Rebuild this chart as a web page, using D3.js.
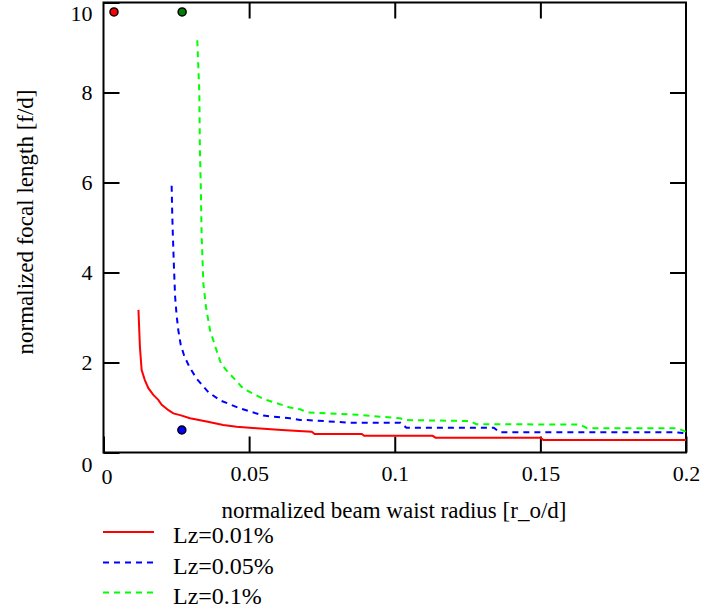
<!DOCTYPE html>
<html><head><meta charset="utf-8">
<script src="https://cdn.jsdelivr.net/npm/d3@7"></script>
<style>
body{margin:0;background:#fff;}
svg{display:block;}
svg text{font-family:"Liberation Serif","DejaVu Serif",serif;}
</style></head>
<body>
<script>
// ---- data ----
const xTicks = [0, 0.05, 0.1, 0.15, 0.2];
const yTicks = [0, 2, 4, 6, 8, 10];
const seriesNames = ["Lz=0.01%", "Lz=0.05%", "Lz=0.1%"];
const redX = [0.0120,0.0125,0.0131,0.0142,0.0154,0.0171,0.0188,0.0200,0.0223,0.0240,0.0263,0.0297,0.0354,0.0411,0.0457,0.0526,0.0612,0.0715,0.0725,0.0887,0.0895,0.113,0.114,0.150,0.151,0.2];
const redY = [3.17,2.35,1.83,1.61,1.43,1.28,1.17,1.06,0.94,0.87,0.83,0.76,0.69,0.61,0.57,0.54,0.50,0.46,0.41,0.41,0.37,0.37,0.33,0.33,0.28,0.28];
const blueX = [0.0234,0.0236,0.0238,0.0242,0.0246,0.0251,0.0257,0.0265,0.0277,0.0295,0.032,0.036,0.040,0.0469,0.0549,0.064,0.0675,0.070,0.085,0.102,0.104,0.134,0.136,0.195,0.2];
const blueY = [5.93,5.3,4.86,4.1,3.45,3.05,2.71,2.4,2.15,1.9,1.64,1.34,1.16,0.98,0.82,0.76,0.72,0.72,0.66,0.66,0.55,0.55,0.45,0.45,0.43];
const greenX = [0.0322,0.0329,0.0331,0.0334,0.0337,0.0343,0.0352,0.0366,0.0389,0.0404,0.0423,0.048,0.0549,0.064,0.0675,0.070,0.087,0.1018,0.104,0.1258,0.128,0.1636,0.166,0.197,0.2];
const greenY = [9.16,8.0,6.72,5.94,4.8,3.75,3.23,2.71,2.25,1.97,1.82,1.42,1.19,1.0,0.96,0.89,0.84,0.76,0.72,0.70,0.63,0.62,0.54,0.54,0.46];
const markerNames = ["red","green","blue"];
const markerX = [0.0036, 0.027, 0.0269];
const markerY = [9.79, 9.79, 0.5];

// ---- layout ----
const W = 706, H = 616;
const L = 103.5, T = 2.5, R = 686, B = 452.5;
const FONT = "Liberation Serif, DejaVu Serif, serif";
const colors = ["#ff0000", "#0000ff", "#00ff00"];
const dashes = [null, "6,5", "6,5"];
const markerFill = ["#ff0000", "#008000", "#0000ff"];

const svg = d3.select("body").append("svg").attr("width", W).attr("height", H)
  .attr("font-family", FONT);
const x = d3.scaleLinear().domain([0, 0.2]).range([L, R]);
const y = d3.scaleLinear().domain([0, 10]).range([B, T]);

const fmtX = d => d === 0 ? "0" : String(d);

// axes
const gl = svg.append("g").attr("transform", `translate(${L},0)`)
  .call(d3.axisLeft(y).tickValues(yTicks).tickSize(-16).tickPadding(11).tickFormat(d => String(d)));
const gb = svg.append("g").attr("transform", `translate(0,${B})`)
  .call(d3.axisBottom(x).tickValues(xTicks).tickSize(-16).tickPadding(13).tickFormat(fmtX));
const gr = svg.append("g").attr("transform", `translate(${R},0)`)
  .call(d3.axisRight(y).tickValues(yTicks.slice(1, -1)).tickSize(-16).tickFormat(""));
const gt = svg.append("g").attr("transform", `translate(0,${T})`)
  .call(d3.axisTop(x).tickValues(xTicks.slice(1, -1)).tickSize(-16).tickFormat(""));
[gl, gb, gr, gt].forEach(g => {
  g.attr("font-family", FONT);
  g.select(".domain").remove();
  g.selectAll("line").attr("stroke", "#000").attr("stroke-width", 2);
  g.selectAll("text").attr("font-family", FONT).attr("font-size", 22).attr("fill", "#000");
});
// end labels on the y axis are nudged inside the picture, as in the reference
gl.selectAll(".tick text").attr("transform", d => d === 10 ? "translate(0,11)" : d === 0 ? "translate(0,12)" : null);
gb.selectAll(".tick text").attr("transform", d => d === 0 ? "translate(3,3)" : null);

// frame
svg.append("rect").attr("x", L).attr("y", T).attr("width", R - L).attr("height", B - T)
  .attr("fill", "none").attr("stroke", "#000").attr("stroke-width", 2);

// lines
const seriesData = [
  redX.map((v, i) => [v, redY[i]]),
  blueX.map((v, i) => [v, blueY[i]]),
  greenX.map((v, i) => [v, greenY[i]])
];
const line = d3.line().x(d => x(d[0])).y(d => y(d[1]));
const plot = svg.append("g");
seriesData.forEach((s, i) => {
  plot.append("path").datum(s).attr("d", line).attr("fill", "none")
    .attr("stroke", colors[i]).attr("stroke-width", 2)
    .attr("stroke-dasharray", dashes[i]);
});

// markers
markerX.forEach((mx, i) => {
  svg.append("circle").attr("cx", x(mx)).attr("cy", y(markerY[i])).attr("r", 4)
    .attr("fill", markerFill[i]).attr("stroke", "#000").attr("stroke-width", 1.5);
});

// axis titles
svg.append("text").attr("x", 394).attr("y", 518).attr("text-anchor", "middle")
  .attr("font-size", 23).text("normalized beam waist radius [r_o/d]");
svg.append("text").attr("transform", `translate(33,222) rotate(-90)`)
  .attr("text-anchor", "middle").attr("font-size", 23).text("normalized focal length [f/d]");

// legend
const legY = [532, 562.5, 592.5];
seriesNames.forEach((n, i) => {
  svg.append("line").attr("x1", 103).attr("x2", 154).attr("y1", legY[i]).attr("y2", legY[i])
    .attr("stroke", colors[i]).attr("stroke-width", 2).attr("stroke-dasharray", dashes[i]);
  svg.append("text").attr("x", 173).attr("y", legY[i] + 11).attr("font-size", 24).text(n);
});
</script>
</body></html>
